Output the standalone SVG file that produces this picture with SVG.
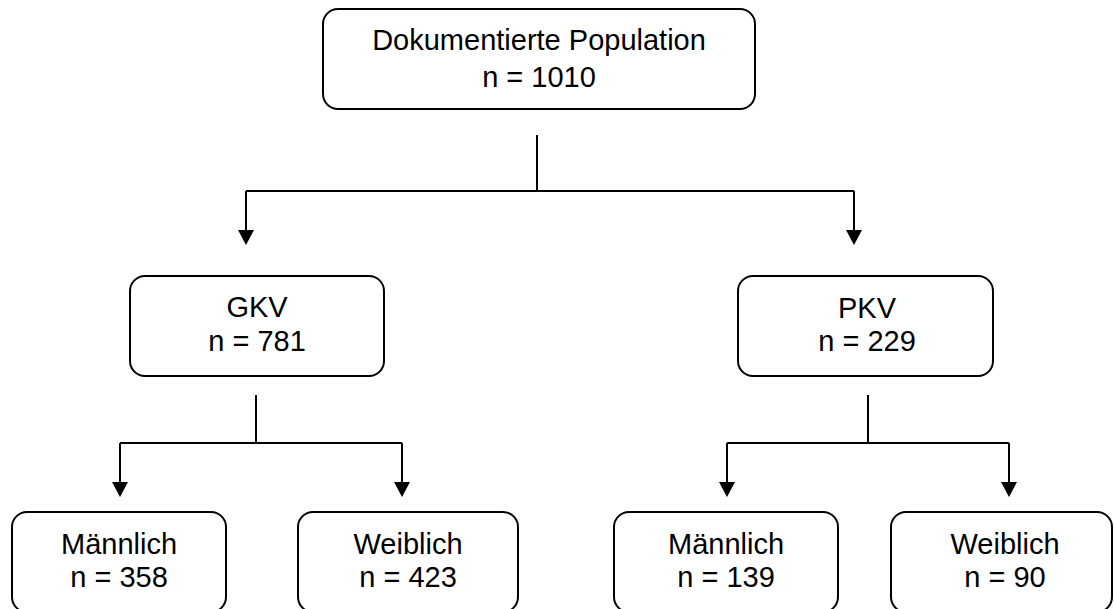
<svg xmlns="http://www.w3.org/2000/svg" width="1114" height="609" viewBox="0 0 1114 609">
  <style>
    .box { fill: #ffffff; stroke: #000000; stroke-width: 2; }
    .lbl { font-family: "Liberation Sans", Arial, sans-serif; font-size: 29px; fill: #000000; text-anchor: middle; }
    .line { fill: none; stroke: #000000; stroke-width: 2; }
  </style>
  <defs>
    <marker id="arrow" viewBox="0 0 15 16" refX="7" refY="8" markerWidth="15" markerHeight="16" markerUnits="userSpaceOnUse" orient="auto">
      <path d="M0,0 L15,8 L0,16 z" fill="#000000"/>
    </marker>
  </defs>
  <rect width="1114" height="609" fill="#ffffff"/>

  <g id="connectors">
    <path class="line" d="M537 135 V191"/>
    <path class="line" d="M246 191 H854"/>
    <path class="line" d="M246 191 V237" marker-end="url(#arrow)"/>
    <path class="line" d="M854 191 V237" marker-end="url(#arrow)"/>

    <path class="line" d="M256 395 V443"/>
    <path class="line" d="M120 443 H402"/>
    <path class="line" d="M120 443 V489" marker-end="url(#arrow)"/>
    <path class="line" d="M402 443 V489" marker-end="url(#arrow)"/>

    <path class="line" d="M868 395 V443"/>
    <path class="line" d="M727 443 H1009"/>
    <path class="line" d="M727 443 V489" marker-end="url(#arrow)"/>
    <path class="line" d="M1009 443 V489" marker-end="url(#arrow)"/>
  </g>

  <g id="node-population">
    <rect class="box" x="323" y="9" width="432" height="100" rx="15" ry="15"/>
    <text class="lbl" x="539" y="50">Dokumentierte Population</text>
    <text class="lbl" x="539" y="87">n = 1010</text>
  </g>

  <g id="node-gkv">
    <rect class="box" x="130" y="276" width="254" height="100" rx="15" ry="15"/>
    <text class="lbl" x="257" y="317">GKV</text>
    <text class="lbl" x="257" y="351">n = 781</text>
  </g>

  <g id="node-pkv">
    <rect class="box" x="738" y="276" width="255" height="100" rx="15" ry="15"/>
    <text class="lbl" x="867" y="318">PKV</text>
    <text class="lbl" x="867" y="351">n = 229</text>
  </g>

  <g id="node-gkv-maennlich">
    <rect class="box" x="12" y="512" width="214" height="100" rx="15" ry="15"/>
    <text class="lbl" x="119" y="554">Männlich</text>
    <text class="lbl" x="119" y="587">n = 358</text>
  </g>

  <g id="node-gkv-weiblich">
    <rect class="box" x="298" y="512" width="220" height="100" rx="15" ry="15"/>
    <text class="lbl" x="408" y="554">Weiblich</text>
    <text class="lbl" x="408" y="587">n = 423</text>
  </g>

  <g id="node-pkv-maennlich">
    <rect class="box" x="614" y="512" width="224" height="100" rx="15" ry="15"/>
    <text class="lbl" x="726" y="554">Männlich</text>
    <text class="lbl" x="726" y="587">n = 139</text>
  </g>

  <g id="node-pkv-weiblich">
    <rect class="box" x="891" y="512" width="221" height="100" rx="15" ry="15"/>
    <text class="lbl" x="1005" y="554">Weiblich</text>
    <text class="lbl" x="1005" y="587">n = 90</text>
  </g>
</svg>
